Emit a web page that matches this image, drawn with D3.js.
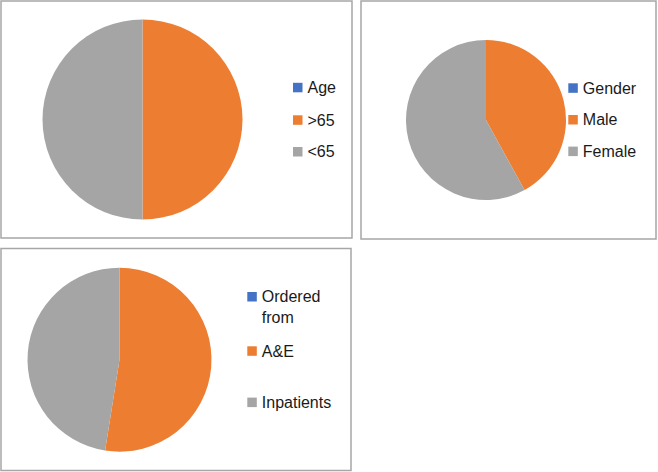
<!DOCTYPE html>
<html>
<head>
<meta charset="utf-8">
<script src="https://cdn.jsdelivr.net/npm/d3@7"></script>
<style>
  html, body { margin: 0; padding: 0; background: #ffffff; }
  svg { display: block; }
  text { font-family: "Liberation Sans", Arial, sans-serif; font-size: 16px; fill: #1a1a1a; }
</style>
</head>
<body>
<svg id="chart" width="658" height="472"></svg>
<script>
// ---- data ----
const ageLabels = ["Age", ">65", "<65"];
const ageValues = [0, 50, 50];

const genderLabels = ["Gender", "Male", "Female"];
const genderValues = [0, 42, 58];

const orderLabels = [["Ordered", "from"], ["A&E"], ["Inpatients"]];
const orderValues = [0, 52.5, 47.5];

const sliceColors = ["#4472C4", "#ED7D31", "#A5A5A5"];

// ---- layout ----
const panels = [
  { labels: ageLabels, values: ageValues,
    box: [1, 1, 351, 237], cx: 142.5, cy: 119.5, r: 100,
    lx: 293, ly: [87.5, 120, 151.7] },
  { labels: genderLabels, values: genderValues,
    box: [361, 1, 295, 238], cx: 486, cy: 120, r: 80,
    lx: 568.3, ly: [88, 119.7, 151.3] },
  { labels: orderLabels, values: orderValues,
    box: [1, 248.5, 350, 222], cx: 119.5, cy: 359.7, r: 92,
    lx: 247.3, ly: [296.7, 351, 402.3] }
];

const svg = d3.select("#chart");
const color = d3.scaleOrdinal().domain([0, 1, 2]).range(sliceColors);

panels.forEach(p => {
  const g = svg.append("g");
  g.append("rect")
    .attr("x", p.box[0]).attr("y", p.box[1])
    .attr("width", p.box[2]).attr("height", p.box[3])
    .attr("fill", "#ffffff")
    .attr("stroke", "#a6a6a6").attr("stroke-width", 1.5);

  const pie = d3.pie().sort(null).value(d => d)
    .startAngle(0).endAngle(2 * Math.PI);
  const arc = d3.arc().innerRadius(0).outerRadius(p.r);
  g.append("g")
    .attr("transform", `translate(${p.cx},${p.cy})`)
    .selectAll("path")
    .data(pie(p.values))
    .join("path")
    .attr("d", arc)
    .attr("fill", (d, i) => color(i));

  const leg = g.append("g");
  p.labels.forEach((lab, i) => {
    const cy = p.ly[i];
    leg.append("rect")
      .attr("x", p.lx).attr("y", cy - 4.7)
      .attr("width", 9.5).attr("height", 9.5)
      .attr("fill", color(i));
    const lines = Array.isArray(lab) ? lab : [lab];
    const t = leg.append("text")
      .attr("x", p.lx + 14.5)
      .attr("y", cy + 5.6);
    lines.forEach((ln, j) => {
      t.append("tspan")
        .attr("x", p.lx + 14.5)
        .attr("dy", j === 0 ? 0 : 21)
        .text(ln);
    });
  });
});
</script>
</body>
</html>
